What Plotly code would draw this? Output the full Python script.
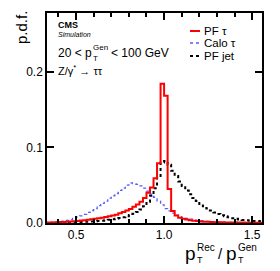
import plotly.graph_objects as go

BIN_W = 0.02
bin_lo = [round(0.32 + BIN_W * i, 2) for i in range(62)]

pf_tau = [0.0005, 0.0006, 0.0008, 0.001, 0.0012, 0.0014, 0.0017, 0.002, 0.0024, 0.0028,
          0.0032, 0.0037, 0.0042, 0.0048, 0.0055, 0.0062, 0.007, 0.0078, 0.0088, 0.0098,
          0.011, 0.013, 0.0145, 0.0165, 0.0185, 0.0215, 0.0245, 0.028, 0.033, 0.04,
          0.047, 0.059, 0.079, 0.184, 0.168, 0.045, 0.016, 0.010, 0.007, 0.0055,
          0.0045, 0.0037, 0.003, 0.0025, 0.0021, 0.0018, 0.0015, 0.0013, 0.0011, 0.001,
          0.0009, 0.0008, 0.0007, 0.0006, 0.0006, 0.0005, 0.0005, 0.0004, 0.0004, 0.0004,
          0.0003, 0.0003]

calo_tau = [0.0003, 0.0005, 0.0008, 0.0012, 0.0018, 0.0025, 0.0035, 0.0045, 0.006, 0.0078,
            0.0095, 0.0115, 0.014, 0.0165, 0.019, 0.023, 0.026, 0.029, 0.033, 0.036,
            0.039, 0.043, 0.046, 0.050, 0.053, 0.052, 0.051, 0.049, 0.046, 0.042,
            0.038, 0.034, 0.029, 0.024, 0.019, 0.016, 0.013, 0.0105, 0.0085, 0.007,
            0.006, 0.005, 0.0042, 0.0036, 0.003, 0.0026, 0.0022, 0.0019, 0.0016, 0.0014,
            0.0012, 0.001, 0.0009, 0.0008, 0.0007, 0.0006, 0.0005, 0.0005, 0.0004, 0.0004,
            0.0003, 0.0003]

pf_jet = [0.0002, 0.0003, 0.0003, 0.0004, 0.0005, 0.0006, 0.0007, 0.0008, 0.001, 0.0011,
          0.0013, 0.0015, 0.0017, 0.002, 0.0023, 0.0027, 0.0031, 0.0036, 0.0042, 0.0049,
          0.0057, 0.0066, 0.0077, 0.009, 0.0105, 0.0123, 0.0145, 0.018, 0.022, 0.028,
          0.036, 0.046, 0.06, 0.08, 0.082, 0.077, 0.069, 0.062, 0.055, 0.049,
          0.043, 0.038, 0.033, 0.029, 0.025, 0.022, 0.019, 0.0165, 0.014, 0.012,
          0.0102, 0.0088, 0.0075, 0.0064, 0.0055, 0.0047, 0.004, 0.0035, 0.003, 0.0028,
          0.0025, 0.0022]

x_ticks = [0.5, 1.0, 1.5]
y_ticks = [0.0, 0.1, 0.2]
legend_labels = ["PF τ", "Calo τ", "PF jet"]

FONT = "Liberation Sans, Arial, Helvetica, sans-serif"


def step_xy(vals):
    xs = bin_lo + [round(bin_lo[-1] + BIN_W, 2)]
    ys = list(vals) + [vals[-1]]
    return xs, ys


fig = go.Figure()
for vals, color, width, dash in [
    (pf_jet, "black", 2, "dot"),
    (calo_tau, "#5a5aff", 1.3, "dot"),
    (pf_tau, "#ff0000", 2, "solid"),
]:
    xs, ys = step_xy(vals)
    fig.add_trace(go.Scatter(x=xs, y=ys, mode="lines", line_shape="hv",
                             line=dict(color=color, width=width, dash=dash),
                             showlegend=False, hoverinfo="skip"))

L, R, T, B = 47, 18, 13, 48
W, H = 280, 271
PW, PH = W - L - R, H - T - B


def px(xp, yp):
    return (xp - L) / PW, (H - B - yp) / PH


annotations = []


def txt(text, xp, yp, size, xanchor="left", **kw):
    x, y = px(xp, yp)
    annotations.append(dict(text=text, x=x, y=y, xref="paper", yref="paper",
                            xanchor=xanchor, yanchor="middle", showarrow=False,
                            font=dict(family=FONT, size=size, color="black"), **kw))


# y title
txt("p.d.f.", 22, 28, 15, xanchor="center", textangle=-90)

# x title
txt("p", 190, 254, 19, xanchor="center")
txt("Rec", 195, 247, 10)
txt("T", 195, 260, 9)
txt("/", 220, 254, 15, xanchor="center")
txt("p", 231, 254, 19, xanchor="center")
txt("Gen", 236, 247, 10)
txt("T", 236, 260, 9)

# top-left labels
txt("<b>CMS</b>", 56, 25, 9)
txt("<i>Simulation</i>", 56, 34, 7)
txt("20 < p", 56, 53, 12)
txt("Gen", 91, 48, 8)
txt("T", 91, 58, 8)
txt("< 100 GeV", 109, 53, 12)
txt("Z/γ<sup>*</sup> → ττ", 56, 70, 11)

# legend
shapes = []
leg_y = [31, 43, 56]
leg_style = [("#ff0000", 2, "solid"), ("#5a5aff", 1.3, "dot"), ("black", 2, "dot")]
for lab, yy, (c, w, d) in zip(legend_labels, leg_y, leg_style):
    x0, y0 = px(190, yy)
    x1, _ = px(200, yy)
    shapes.append(dict(type="line", xref="paper", yref="paper", x0=x0, x1=x1, y0=y0, y1=y0,
                       line=dict(color=c, width=w, dash=d)))
    txt(lab, 202, yy, 11.5)

axis_common = dict(showline=True, linecolor="black", linewidth=1.5, mirror="allticks",
                   ticks="inside", tickcolor="black", tickwidth=1.5, ticklen=7,
                   showgrid=False, zeroline=False,
                   tickfont=dict(family=FONT, size=12, color="black"))

fig.update_layout(
    width=W, height=H, margin=dict(l=L, r=R, t=T, b=B),
    paper_bgcolor="white", plot_bgcolor="white",
    xaxis=dict(range=[0.335, 1.556], tickvals=x_ticks, ticktext=[f"{v:.1f}" for v in x_ticks],
               minor=dict(dtick=0.1, tick0=0.0, ticks="inside", ticklen=4, tickcolor="black",
                          tickwidth=1.5),
               **axis_common),
    yaxis=dict(range=[0, 0.2775], tickvals=y_ticks, ticktext=[f"{v:.1f}" for v in y_ticks],
               **axis_common),
    annotations=annotations, shapes=shapes,
)

fig.write_html("out.html", config={"displayModeBar": False},
               post_script="document.body.style.margin='0';")
